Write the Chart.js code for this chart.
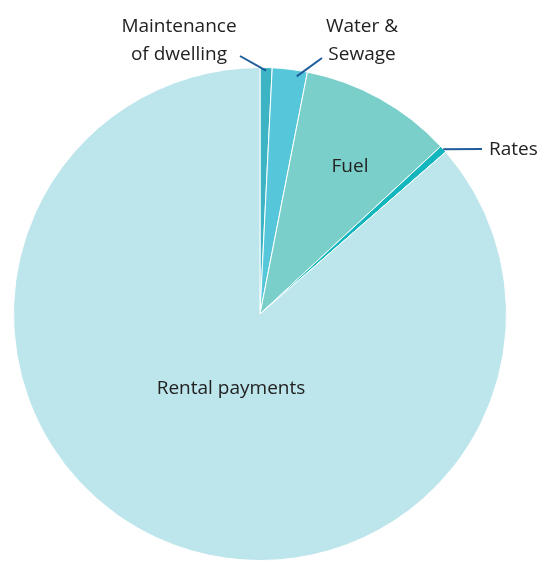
<!DOCTYPE html>
<html>
<head>
<meta charset="utf-8">
<script src="https://cdn.jsdelivr.net/npm/chart.js@4/dist/chart.umd.min.js"></script>
<style>
  html, body { margin: 0; padding: 0; background: #ffffff; }
  #wrap { width: 544px; height: 561px; position: relative; }
</style>
</head>
<body>
<div id="wrap"><canvas id="pieChart"></canvas></div>
<script>
// housing cost shares (%), clockwise from 12 o'clock
const categories = ['Maintenance of dwelling', 'Water & Sewage', 'Fuel', 'Rates', 'Rental payments'];
const shares = [0.79, 2.29, 10.02, 0.48, 86.42];
const sliceColors = ['#3cb4c4', '#56c7db', '#7bcfca', '#12b6bc', '#bde5ec'];

// label text, placement and leader anchor (fraction along the slice angle)
const labelLines = [
    ['Maintenance', 'of dwelling'],
    ['Water &', 'Sewage'],
    ['Fuel'],
    ['Rates'],
    ['Rental payments']
];
const labelSpec = [
    { x: 179, y: 27, align: 'center', leader: { from: [240, 56], at: 0.5, inset: 3 } },
    { x: 362, y: 27, align: 'center', leader: { from: [322, 58], at: 0.72, inset: 6 } },
    { x: 350, y: 167, align: 'center' },
    { x: 489, y: 150, align: 'left', leader: { from: [482, 149], at: 0.5, inset: 0 } },
    { x: 231, y: 389, align: 'center' }
];

const FONT = '19px "Open Sans", sans-serif';
const LINE_H = 28;

const labelPlugin = {
    id: 'sliceLabels',
    afterDraw(chart) {
        const ctx = chart.ctx;
        const arcs = chart.getDatasetMeta(0).data;
        ctx.save();
        arcs.forEach((arc, i) => {
            const spec = labelSpec[i];
            if (spec.leader) {
                const p = arc.getProps(['x', 'y', 'startAngle', 'endAngle', 'outerRadius'], true);
                const a = p.startAngle + (p.endAngle - p.startAngle) * spec.leader.at;
                const r = p.outerRadius - spec.leader.inset;
                ctx.beginPath();
                ctx.moveTo(spec.leader.from[0], spec.leader.from[1]);
                ctx.lineTo(p.x + Math.cos(a) * r, p.y + Math.sin(a) * r);
                ctx.strokeStyle = '#1f5c9c';
                ctx.lineWidth = 2;
                ctx.stroke();
            }
            ctx.font = FONT;
            ctx.fillStyle = '#222222';
            ctx.textAlign = spec.align;
            ctx.textBaseline = 'middle';
            labelLines[i].forEach((line, k) => {
                ctx.fillText(line, spec.x, spec.y + k * LINE_H);
            });
        });
        ctx.restore();
    }
};

new Chart(document.getElementById('pieChart'), {
    type: 'pie',
    data: {
        labels: categories,
        datasets: [{
            data: shares,
            backgroundColor: sliceColors,
            borderColor: '#ffffff',
            borderWidth: 1
        }]
    },
    options: {
        responsive: true,
        maintainAspectRatio: false,
        animation: false,
        layout: { padding: { left: 13, right: 37, top: 67, bottom: 0 } },
        plugins: {
            legend: { display: false },
            tooltip: { enabled: false }
        }
    },
    plugins: [labelPlugin]
});
</script>
</body>
</html>
